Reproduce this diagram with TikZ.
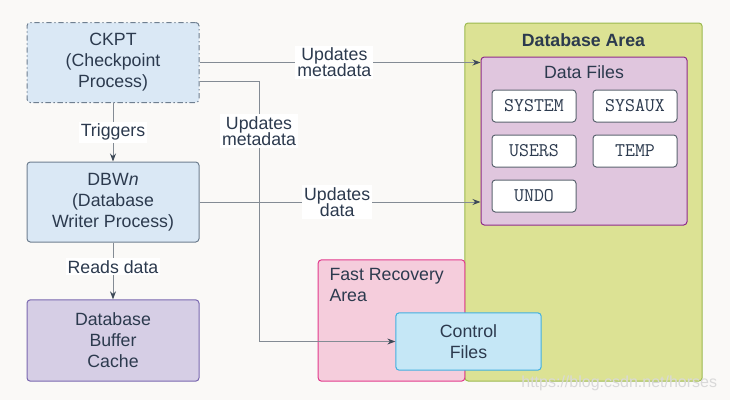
\documentclass[tikz,border=0pt]{standalone}
\usepackage{fontspec}
\setmainfont{Liberation Sans}
\usetikzlibrary{arrows.meta}

\definecolor{bgc}{HTML}{FAF9F7}
\definecolor{txtc}{HTML}{2C3A4E}
\definecolor{procfill}{HTML}{DAE8F5}
\definecolor{procline}{HTML}{6F7F90}
\definecolor{cachefill}{HTML}{D6CEE5}
\definecolor{cacheline}{HTML}{7A68B0}
\definecolor{areafill}{HTML}{DCE294}
\definecolor{arealine}{HTML}{9BBA4E}
\definecolor{filesfill}{HTML}{E0C6DE}
\definecolor{filesline}{HTML}{8E2C8A}
\definecolor{frafill}{HTML}{F5CDDC}
\definecolor{fraline}{HTML}{E23B8D}
\definecolor{ctlfill}{HTML}{C5E7F6}
\definecolor{ctlline}{HTML}{42B0E0}
\definecolor{tsline}{HTML}{5B6470}
\definecolor{wireline}{HTML}{838B94}
\definecolor{tipc}{HTML}{3E4A58}

\newcommand{\tightlines}{\lineskiplimit=-20pt\relax}

\tikzset{every picture/.style={line width=0.75pt}}
\tikzset{
  box/.style={rectangle, rounded corners=2.5pt, draw, inner sep=0pt, align=center,
    text=txtc, font=\fontsize{13.3}{15.75}\selectfont},
  procbox/.style={box, fill=procfill, draw=procline, minimum width=129pt, minimum height=60pt},
  tsbox/.style={box, fill=white, draw=tsline, minimum width=63pt, minimum height=24pt,
    font=\ttfamily\fontsize{14.5}{16}\selectfont},
  wire/.style={draw=wireline, -{Stealth[length=6pt,width=4.5pt,color=tipc]}},
  lbl/.style={fill=white, inner sep=1.5pt, align=center, text=txtc,
    font={\fontsize{13.3}{12}\selectfont\tightlines}},
}

\begin{document}
\begin{tikzpicture}[x=0.75pt,y=0.75pt,yscale=-1,xscale=1]
		\fill[bgc] (0,0) rectangle (730,400);
		\useasboundingbox (0,0) rectangle (730,400);
		
		%Rounded Rect: database area
		\node (dbarea) [box, fill=areafill, draw=arealine, minimum width=178pt, minimum height=268.5pt] at (583.5,202) {};
		\node (dbtitle) [text=txtc, font=\bfseries\fontsize{13.3}{15}\selectfont, anchor=north, inner sep=0pt] at ([yshift=8pt]dbarea.north) {Database Area};
		%Rounded Rect: data files
		\node (datafiles) [box, fill=filesfill, draw=filesline, minimum width=154.5pt, minimum height=126pt] at (584,141) {};
		\node (dftitle) [text=txtc, font=\fontsize{13.3}{15}\selectfont, anchor=north, inner sep=0pt] at ([yshift=6.5pt]datafiles.north) {Data Files};
		\node (system) [tsbox] at (534,106) {SYSTEM};
		\node (sysaux) [tsbox] at (635,106) {SYSAUX};
		\node (users) [tsbox] at (534,151) {USERS};
		\node (temp) [tsbox] at (635,151) {TEMP};
		\node (undo) [tsbox] at (534,196) {UNDO};
		
		%Rounded Rect: fast recovery area
		\node (fra) [box, fill=frafill, draw=fraline, minimum width=110pt, minimum height=91pt] at (391.5,320.5) {};
		\node (fratitle) [text=txtc, font=\fontsize{13.3}{15.75}\selectfont, align=left, anchor=north west, inner sep=0pt] at ([xshift=8.5pt,yshift=6pt]fra.north west) {Fast Recovery\\Area};
		\node (ctl) [box, fill=ctlfill, draw=ctlline, minimum width=109pt, minimum height=43pt] at (468.5,341.5) {Control\\Files};
		
		%Process boxes
		\node (ckpt) [procbox, dash pattern={on 4pt off 2pt on 1pt off 2pt}] at (113,62.5) {CKPT\\(Checkpoint\\Process)};
		\node (dbw) [procbox] at (113,202) {DBW\textit{n}\\(Database\\Writer Process)};
		\node (cache) [box, fill=cachefill, draw=cacheline, minimum width=129pt, minimum height=61pt] at (113,340.5) {Database\\Buffer\\Cache};
		
		%Straight Lines
		\coordinate (ckptlow) at ([yshift=14.5pt]ckpt.east);
		\coordinate (drop) at (259,0);
		\draw [wire] (ckpt.east) -- node [lbl, pos=0.48] {Updates\\metadata} (ckpt.east -| datafiles.west);
		\draw [wire] (ckptlow) -| (drop |- ctl.west) -- (ctl.west);
		\node (lblmeta) [lbl] at (259,131) {Updates\\metadata};
		\draw [wire] (dbw.east) -- node [lbl, pos=0.49] {Updates\\data} (dbw.east -| datafiles.west);
		\draw [wire] (ckpt.south) -- node [lbl] {Triggers} (dbw.north);
		\draw [wire] (dbw.south) -- node [lbl, pos=0.43] {Reads data} (cache.north);
		
		% Text Node
		\node (mark) [text=gray!30, font=\fontsize{12}{14}\selectfont, anchor=east] at (722,383) {https://blog.csdn.net/horses};
		
	\end{tikzpicture}
\end{document}
